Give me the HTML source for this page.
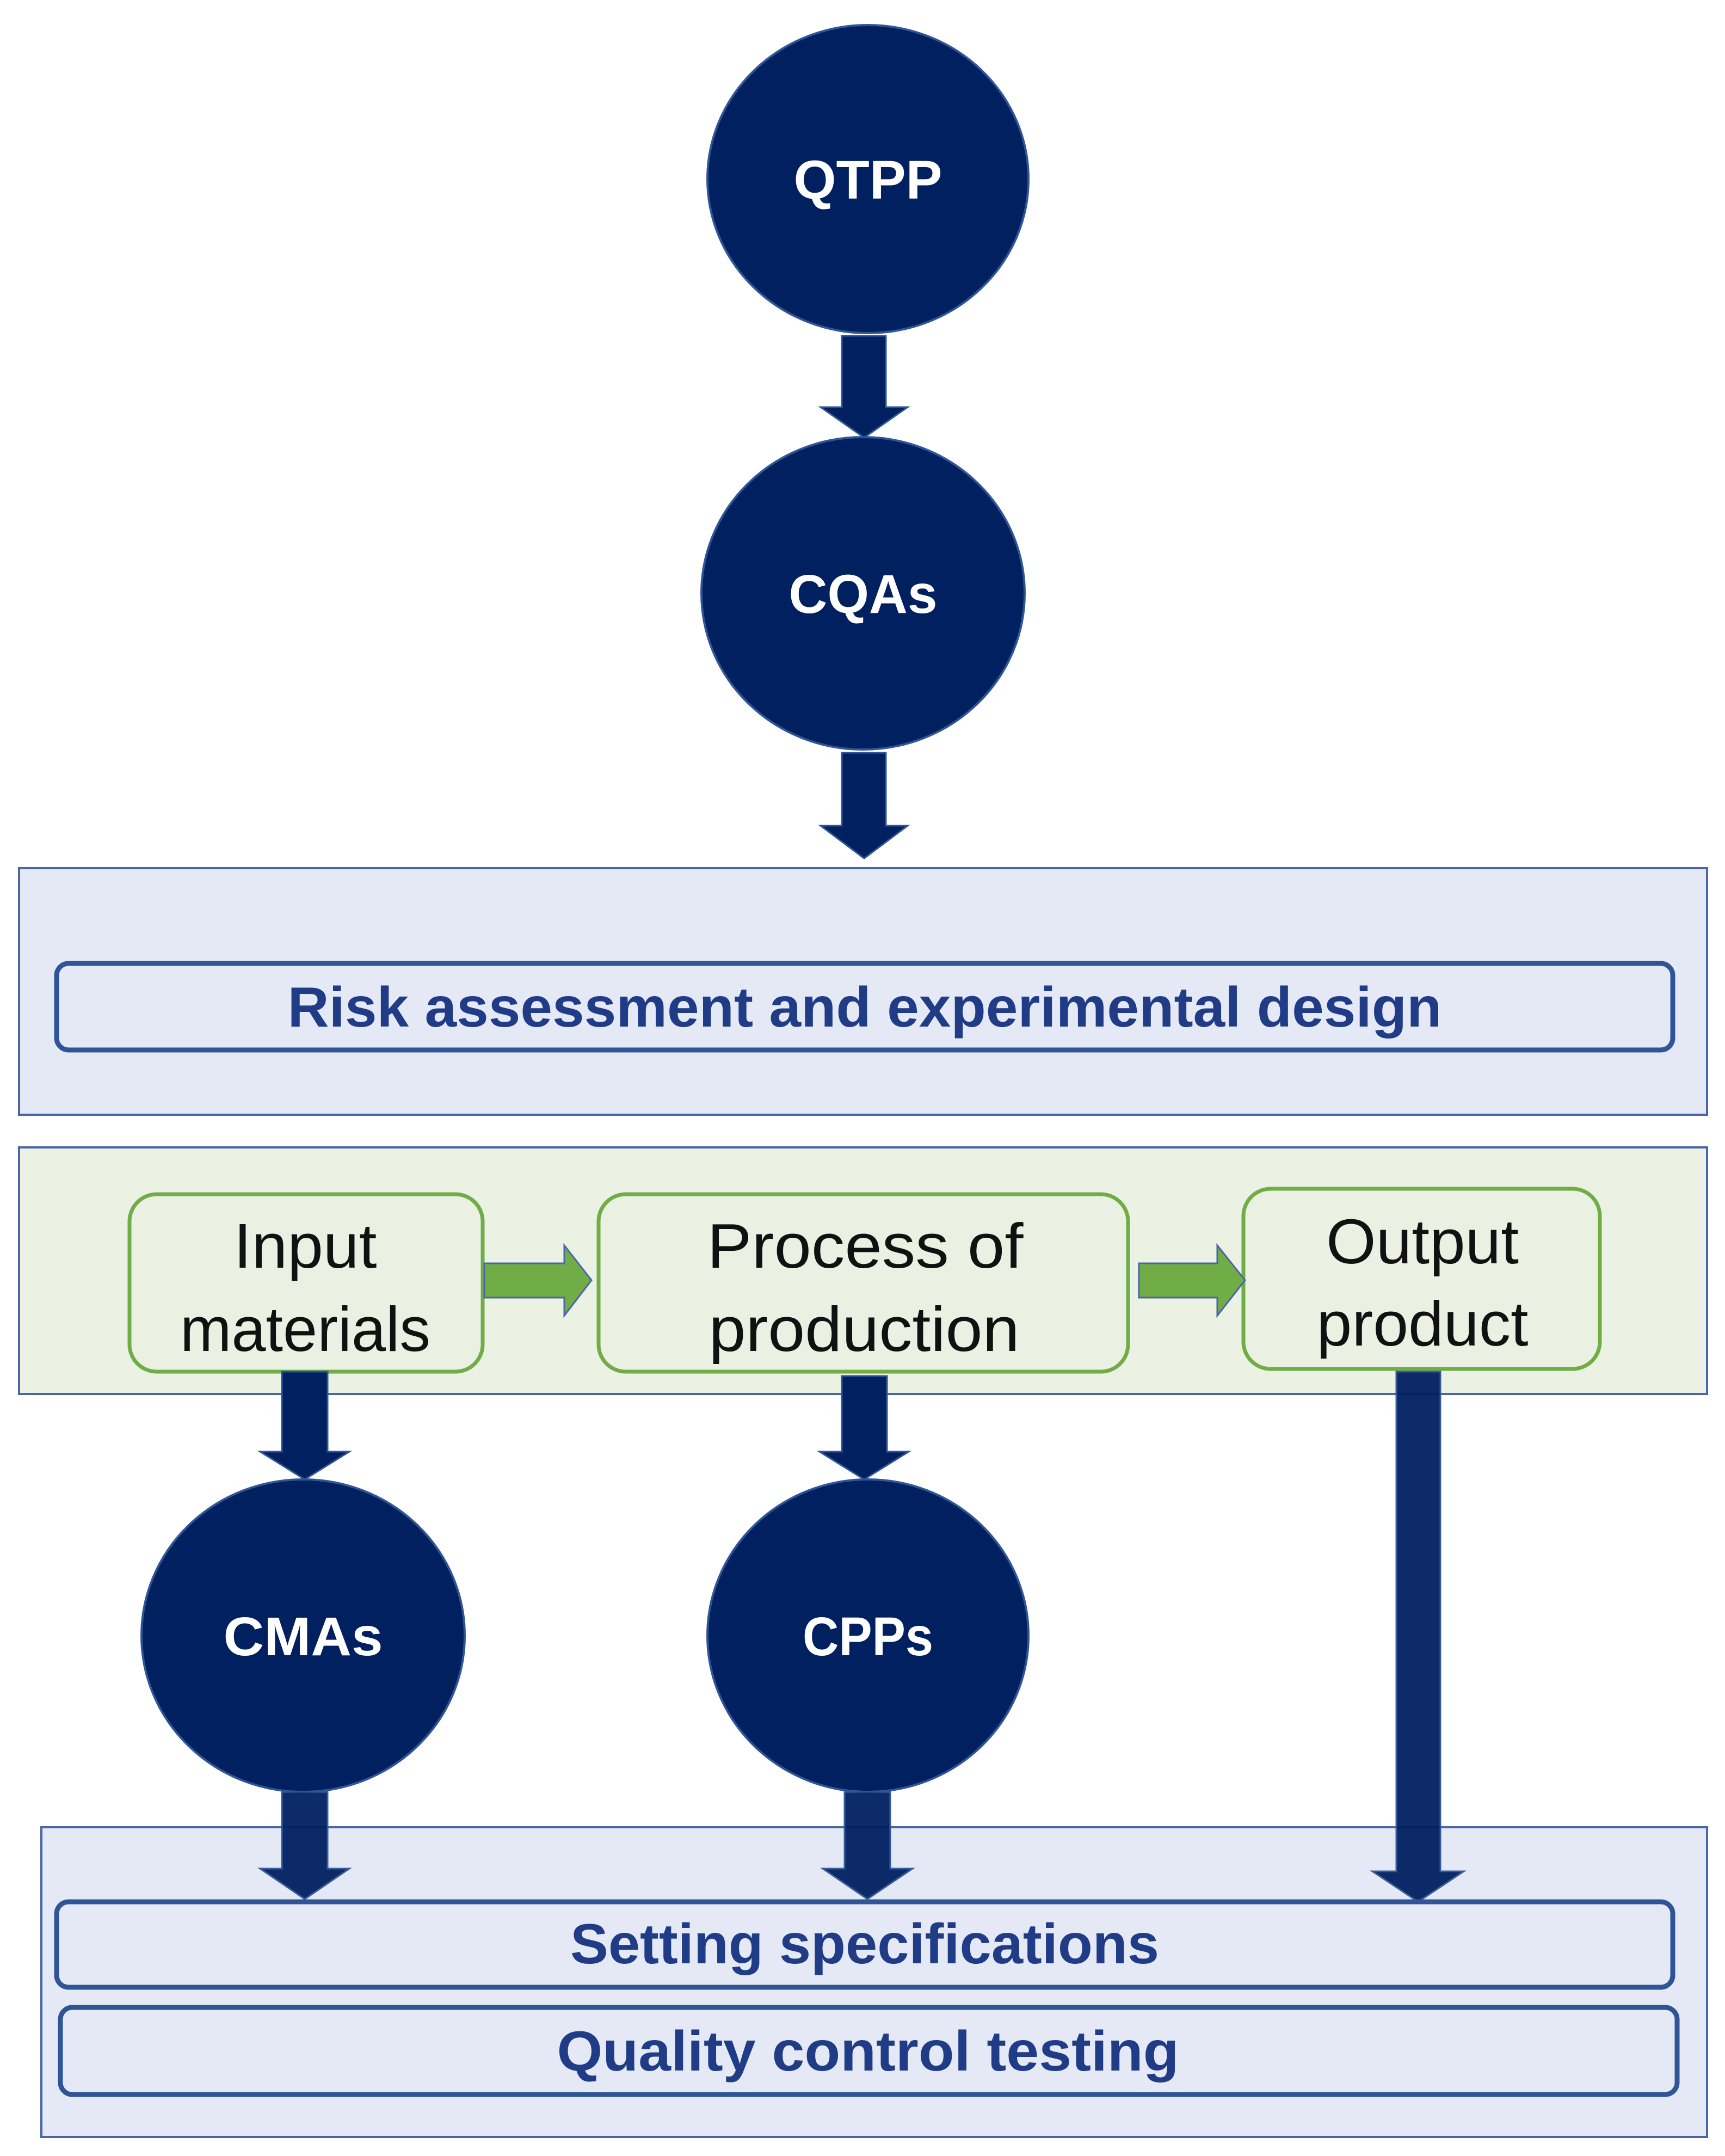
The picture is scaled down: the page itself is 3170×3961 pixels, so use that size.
<!DOCTYPE html>
<html><head><meta charset="utf-8"><style>html,body{margin:0;padding:0;background:#fff}svg{display:block}</style></head>
<body>
<svg width="3170" height="3961" viewBox="0 0 3170 3961" xmlns="http://www.w3.org/2000/svg">
<defs>
<style>
.c{fill:#002060;stroke:#2f5597;stroke-width:4}
.ct{fill:#fff;font-family:"Liberation Sans",sans-serif;font-weight:bold;font-size:100px}
.a{fill:#002060;stroke:#2f5597;stroke-width:3}
.bt{fill:#203c86;font-family:"Liberation Sans",sans-serif;font-weight:bold;font-size:104px}
.gt{fill:#111;font-family:"Liberation Sans",sans-serif;font-size:116px}
.gb{fill:#eaf1e2;stroke:#70ad47;stroke-width:7}
.ga{fill:#70ad47;stroke:#4a65a8;stroke-width:3}
.ib{fill:#e4e9f5;stroke:#2f5597;stroke-width:9}
</style>
</defs>
<!-- top circles -->
<ellipse class="c" cx="1595" cy="329" rx="295" ry="283"/>
<text class="ct" x="1595" y="365" text-anchor="middle" textLength="273" lengthAdjust="spacingAndGlyphs">QTPP</text>
<polygon class="a" points="1547,617 1628,617 1628,748 1668,748 1588,804 1508,748 1547,748"/>
<ellipse class="c" cx="1586" cy="1090" rx="297" ry="287"/>
<text class="ct" x="1586" y="1126" text-anchor="middle" textLength="273" lengthAdjust="spacingAndGlyphs">CQAs</text>
<polygon class="a" points="1547,1383 1628,1383 1628,1517 1668,1517 1588,1577 1508,1517 1547,1517"/>
<!-- risk box -->
<rect x="35" y="1595" width="3102" height="453" fill="#e4e9f5" stroke="#4a65a8" stroke-width="4"/>
<rect class="ib" x="104" y="1770" width="2970" height="159" rx="22"/>
<text class="bt" x="1589" y="1886" text-anchor="middle" textLength="2121" lengthAdjust="spacingAndGlyphs">Risk assessment and experimental design</text>
<!-- green box -->
<rect x="35" y="2108" width="3102" height="453" fill="#ebf1e3" stroke="#4a65a8" stroke-width="4"/>
<rect class="gb" x="238" y="2194" width="649" height="326" rx="50"/>
<rect class="gb" x="1100" y="2194" width="973" height="326" rx="50"/>
<rect class="gb" x="2285" y="2184" width="655" height="331" rx="50"/>
<polygon class="ga" points="890,2321 1037,2321 1037,2288 1087,2352 1037,2417 1037,2384 890,2384"/>
<polygon class="ga" points="2093,2321 2237,2321 2237,2288 2288,2352 2237,2417 2237,2384 2093,2384"/>
<text class="gt" x="561" y="2329" text-anchor="middle" textLength="263" lengthAdjust="spacingAndGlyphs">Input</text>
<text class="gt" x="561" y="2482" text-anchor="middle" textLength="460" lengthAdjust="spacingAndGlyphs">materials</text>
<text class="gt" x="1590" y="2329" text-anchor="middle" textLength="581" lengthAdjust="spacingAndGlyphs">Process of</text>
<text class="gt" x="1588" y="2482" text-anchor="middle" textLength="571" lengthAdjust="spacingAndGlyphs">production</text>
<text class="gt" x="2614" y="2321" text-anchor="middle" textLength="354" lengthAdjust="spacingAndGlyphs">Output</text>
<text class="gt" x="2614" y="2472" text-anchor="middle" textLength="389" lengthAdjust="spacingAndGlyphs">product</text>
<!-- arrows down -->
<polygon class="a" points="518,2520 602,2520 602,2667 642,2667 560,2718 478,2667 518,2667"/>
<polygon class="a" points="1547,2528 1630,2528 1630,2667 1670,2667 1588,2718 1506,2667 1547,2667"/>
<ellipse class="c" cx="557" cy="3005" rx="297" ry="287"/>
<text class="ct" x="557" y="3041" text-anchor="middle" textLength="293" lengthAdjust="spacingAndGlyphs">CMAs</text>
<ellipse class="c" cx="1595" cy="3005" rx="295" ry="287"/>
<text class="ct" x="1595" y="3041" text-anchor="middle" textLength="240" lengthAdjust="spacingAndGlyphs">CPPs</text>
<!-- bottom box -->
<rect x="76" y="3357" width="3061" height="569" fill="#e4e9f5" stroke="#4a65a8" stroke-width="4"/>
<polygon class="a" points="2566,2520 2647,2520 2647,3438 2690,3438 2606,3494 2522,3438 2566,3438" opacity="0.95"/>
<polygon class="a" points="518,3292 602,3292 602,3433 642,3433 560,3489 478,3433 518,3433" opacity="0.95"/>
<polygon class="a" points="1552,3292 1636,3292 1636,3433 1677,3433 1594,3489 1512,3433 1552,3433" opacity="0.95"/>
<rect class="ib" x="104" y="3494" width="2970" height="157" rx="22"/>
<text class="bt" x="1589" y="3607" text-anchor="middle" textLength="1082" lengthAdjust="spacingAndGlyphs">Setting specifications</text>
<rect class="ib" x="111" y="3688" width="2971" height="160" rx="22"/>
<text class="bt" x="1595" y="3804" text-anchor="middle" textLength="1143" lengthAdjust="spacingAndGlyphs">Quality control testing</text>
</svg>
</body></html>
